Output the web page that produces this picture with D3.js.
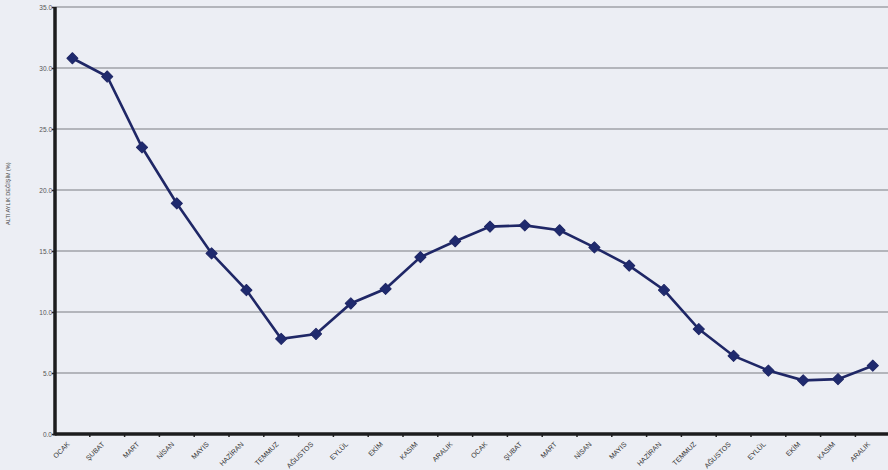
<!DOCTYPE html>
<html>
<head>
<meta charset="utf-8">
<script src="https://cdn.jsdelivr.net/npm/d3@7"></script>
<style>
  body { margin: 0; background: #eceef4; }
  svg { display: block; }
</style>
</head>
<body>
<div id="chart"></div>
<script>
'use strict';

// two years of months, Turkish
var months = ["OCAK", "ŞUBAT", "MART", "NİSAN", "MAYIS", "HAZİRAN",
    "TEMMUZ", "AĞUSTOS", "EYLÜL", "EKİM", "KASIM", "ARALIK"];
var categories = months.concat(months);

// six-month change (%)
var values = [30.8, 29.3, 23.5, 18.9, 14.8, 11.8, 7.8, 8.2, 10.7, 11.9, 14.5, 15.8,
    17.0, 17.1, 16.7, 15.3, 13.8, 11.8, 8.6, 6.4, 5.2, 4.4, 4.5, 5.6];

var yTicks = [0, 5, 10, 15, 20, 25, 30, 35];
var yLabel = "ALTI AYLIK DEĞİŞİM (%)";

var outerWidth = 888;
var outerHeight = 470;
var margin = { left: 55, top: 7, bottom: 36 };
var bandWidth = 34.8;
var font = "Liberation Sans, Arial, sans-serif";

var svg = d3.select("#chart")
    .append("svg")
    .attr("width", outerWidth)
    .attr("height", outerHeight);

svg.append("rect")
    .attr("width", outerWidth)
    .attr("height", outerHeight)
    .attr("fill", "#eceef4");

var x = d3.scaleBand()
    .domain(d3.range(categories.length))
    .range([margin.left, margin.left + bandWidth * categories.length])
    .padding(0);

var y = d3.scaleLinear()
    .domain([0, 35])
    .range([outerHeight - margin.bottom, margin.top]);

// gridlines
svg.append("g")
    .selectAll("line")
    .data(yTicks.filter(function(d) { return d > 0; }))
    .enter()
    .append("line")
    .attr("x1", margin.left)
    .attr("x2", outerWidth)
    .attr("y1", function(d) { return y(d); })
    .attr("y2", function(d) { return y(d); })
    .attr("stroke", "#7a7c82")
    .attr("stroke-width", 1);

// y axis
var yAxis = d3.axisLeft(y)
    .tickValues(yTicks)
    .tickSize(3)
    .tickFormat(d3.format(".1f"));

var yG = svg.append("g")
    .attr("transform", "translate(" + margin.left + ",0)")
    .call(yAxis);
yG.select(".domain").remove();
yG.selectAll(".tick line").attr("stroke", "#222").attr("stroke-width", 1.5);
yG.selectAll(".tick text")
    .attr("x", -3)
    .attr("fill", "#555")
    .style("font-family", font)
    .style("font-size", "6.5px");

// x axis, labels rotated
var xAxis = d3.axisBottom(x)
    .tickSize(0)
    .tickFormat(function(i) { return categories[i]; });

var xG = svg.append("g")
    .attr("transform", "translate(0," + y(0) + ")")
    .call(xAxis);
xG.select(".domain").remove();
xG.selectAll(".tick text")
    .attr("text-anchor", "end")
    .attr("x", 0)
    .attr("y", 0)
    .attr("dy", "0.35em")
    .attr("transform", "translate(-4,9) rotate(-45)")
    .attr("fill", "#333")
    .style("font-family", font)
    .style("font-size", "7px");

// small ticks between the months
svg.append("g")
    .selectAll("line")
    .data(d3.range(1, categories.length + 1))
    .enter()
    .append("line")
    .attr("x1", function(i) { return margin.left + i * x.bandwidth(); })
    .attr("x2", function(i) { return margin.left + i * x.bandwidth(); })
    .attr("y1", y(0))
    .attr("y2", y(0) + 3)
    .attr("stroke", "#222")
    .attr("stroke-width", 1.5);

// heavy axis lines
svg.append("line")
    .attr("x1", margin.left)
    .attr("x2", outerWidth)
    .attr("y1", y(0))
    .attr("y2", y(0))
    .attr("stroke", "#1c1c1e")
    .attr("stroke-width", 3.5);

svg.append("line")
    .attr("x1", margin.left)
    .attr("x2", margin.left)
    .attr("y1", y(35))
    .attr("y2", y(0) + 1.5)
    .attr("stroke", "#1c1c1e")
    .attr("stroke-width", 3.5);

// y label
svg.append("text")
    .attr("transform", "translate(10," + y(19.7) + ") rotate(-90)")
    .attr("text-anchor", "middle")
    .attr("fill", "#444")
    .style("font-family", font)
    .style("font-size", "5.5px")
    .text(yLabel);

// series
var line = d3.line()
    .x(function(d, i) { return x(i) + x.bandwidth() / 2; })
    .y(function(d) { return y(d); });

svg.append("path")
    .datum(values)
    .attr("d", line)
    .attr("fill", "none")
    .attr("stroke", "#1f2766")
    .attr("stroke-width", 2.6);

svg.append("g")
    .selectAll("path")
    .data(values)
    .enter()
    .append("path")
    .attr("d", d3.symbol().type(d3.symbolSquare).size(62))
    .attr("transform", function(d, i) {
        return "translate(" + (x(i) + x.bandwidth() / 2) + "," + y(d) + ") rotate(45)";
    })
    .attr("fill", "#1f2a6e")
    .attr("stroke", "#1f2766")
    .attr("stroke-width", 1)
    .attr("stroke-linejoin", "round");
</script>
</body>
</html>
